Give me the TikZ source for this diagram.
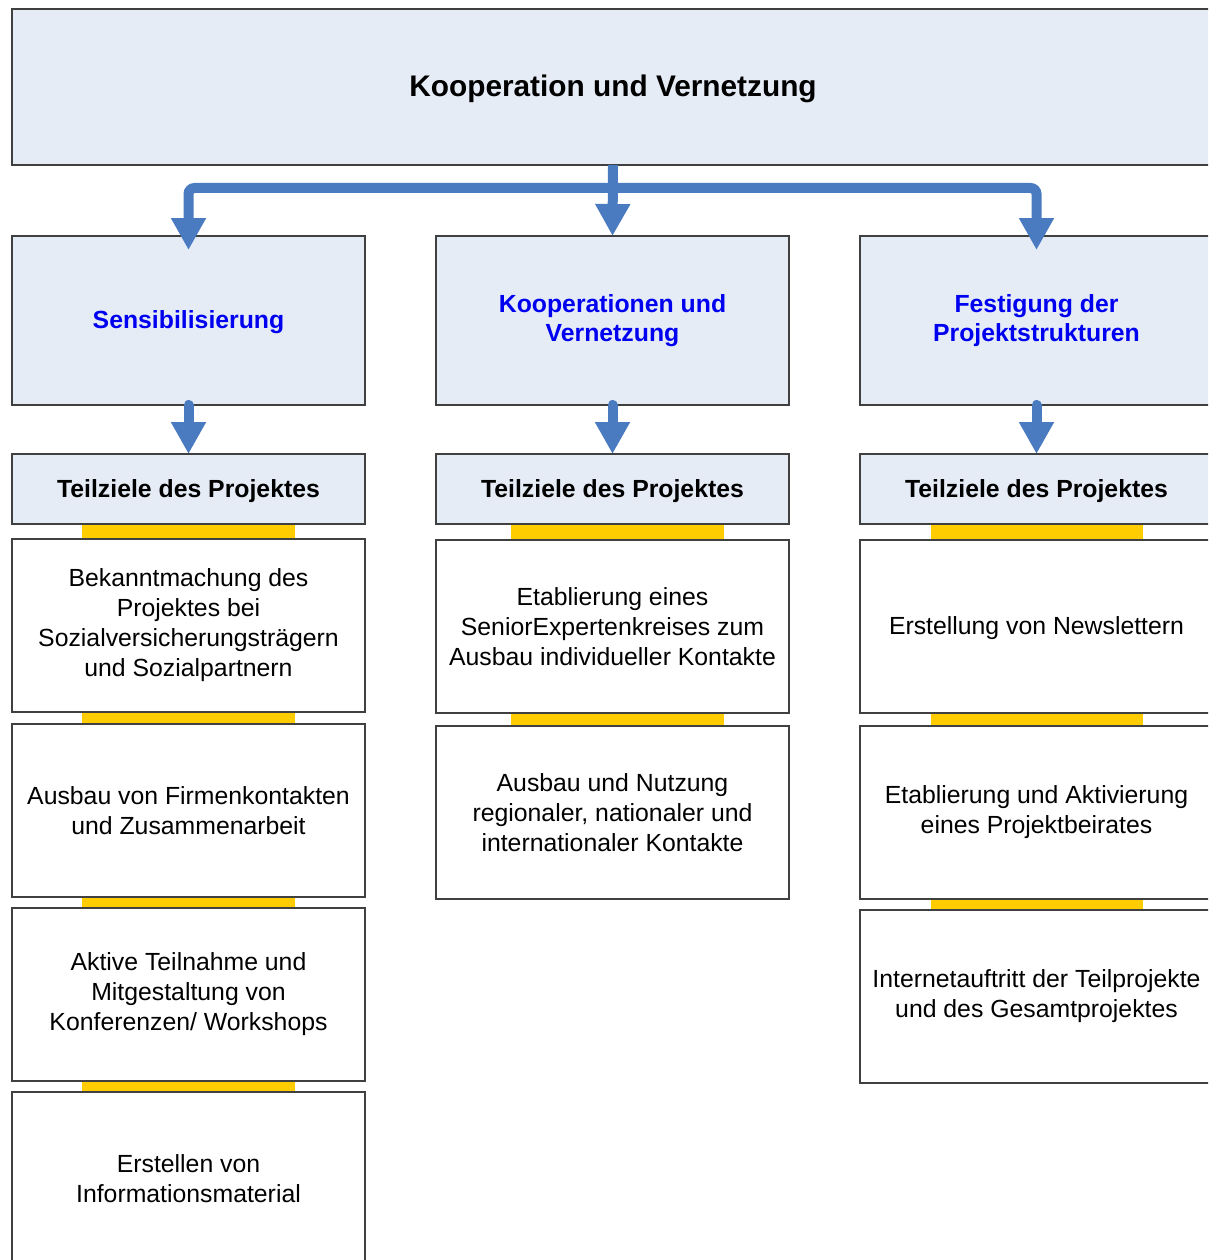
\documentclass[tikz,border=0pt]{standalone}
\usepackage{fontspec}
\setmainfont{Liberation Sans}
\usetikzlibrary{arrows.meta,calc}
\definecolor{paleblue}{HTML}{E5ECF6}
\definecolor{flowblue}{HTML}{4A7BC1}
\definecolor{headblue}{RGB}{0,0,240}
\definecolor{baryellow}{HTML}{FFCC00}
\definecolor{edgegray}{HTML}{404040}
\begin{document}
\begin{tikzpicture}[x=1pt,y=-1pt,
  % a zero-width strut on the first line lowers the text block slightly
  lowered/.style={execute at begin node={\rule{0pt}{#1}}},
  base/.style={draw=edgegray, line width=1.3pt, anchor=north west,
    inner sep=4pt, outer sep=0pt, align=center, lowered=21.8pt,
    font=\fontsize{24.8}{30}\selectfont},
  topbox/.style={base, fill=paleblue, minimum width=1202pt, minimum height=156pt,
    lowered=25.3pt, font=\fontsize{29.8}{34}\selectfont\bfseries},
  headbox/.style={base, fill=paleblue, minimum width=353pt, minimum height=169pt,
    text=headblue, font=\fontsize{24.8}{29.5}\selectfont\bfseries},
  goalbox/.style={base, fill=paleblue, minimum width=353pt, minimum height=70pt,
    font=\fontsize{24.8}{30}\selectfont\bfseries},
  itembox/.style={base, fill=white, minimum width=353pt, minimum height=173pt},
  bar/.style={fill=baryellow},
  flow/.style={draw=flowblue, line width=10pt,
    -{Triangle[width=33pt,length=32pt]}},
]
\useasboundingbox (0,0) rectangle (1208,1260);
\clip (0,0) rectangle (1208,1260);
\fill[white] (0,0) rectangle (1208,1260);

% yellow connecting bars behind the boxes
\fill[bar] (82,522) rectangle (295,541);
\fill[bar] (82,710) rectangle (295,726);
\fill[bar] (82,895) rectangle (295,910);
\fill[bar] (82,1079) rectangle (295,1094);
\fill[bar] (511,522) rectangle (724,542);
\fill[bar] (511,711) rectangle (724,728);
\fill[bar] (931,522) rectangle (1143,542);
\fill[bar] (931,711) rectangle (1143,728);
\fill[bar] (931,897) rectangle (1143,912);

% main box
\node[topbox] (top) at (12,9) {Kooperation und Vernetzung};

% header boxes
\node[headbox] (h1) at (12,236) {Sensibilisierung};
\node[headbox] (h2) at (436,236) {Kooperationen und\\Vernetzung};
\node[headbox] (h3) at (860,236) {Festigung der\\Projektstrukturen};

% sub-goal titles
\node[goalbox] (t1) at (12,454) {Teilziele des Projektes};
\node[goalbox] (t2) at (436,454) {Teilziele des Projektes};
\node[goalbox] (t3) at (860,454) {Teilziele des Projektes};

% column 1
\node[itembox] (a1) at (12,539) {Bekanntmachung des\\Projektes bei\\Sozialversicherungsträgern\\und Sozialpartnern};
\node[itembox] (b1) at (12,724) {Ausbau von Firmenkontakten\\und Zusammenarbeit};
\node[itembox] (c1) at (12,908) {Aktive Teilnahme und\\Mitgestaltung von\\Konferenzen/ Workshops};
\node[itembox] (d1) at (12,1092) {Erstellen von\\Informationsmaterial};

% column 2
\node[itembox] (a2) at (436,540) {Etablierung eines\\SeniorExpertenkreises zum\\Ausbau individueller Kontakte};
\node[itembox] (b2) at (436,726) {Ausbau und Nutzung\\regionaler, nationaler und\\internationaler Kontakte};

% column 3
\node[itembox] (a3) at (860,540) {Erstellung von Newslettern};
\node[itembox] (b3) at (860,726) {Etablierung und Aktivierung\\eines Projektbeirates};
\node[itembox] (c3) at (860,910) {Internetauftritt der Teilprojekte\\und des Gesamtprojektes};

% distribution arrows from the main box
\coordinate (j) at ($(top.south)+(0,23)$);
\coordinate (tip1) at ($(h1.north)+(0,14)$);
\coordinate (tip3) at ($(h3.north)+(0,14)$);
\draw[flow] (top.south) -- (h2.north);
\draw[flow, rounded corners=6pt] (j) -| (tip1);
\draw[flow, rounded corners=6pt] (j) -| (tip3);

% arrows to the sub-goal titles
\draw[flow, line cap=round] (h1.south) -- (t1.north);
\draw[flow, line cap=round] (h2.south) -- (t2.north);
\draw[flow, line cap=round] (h3.south) -- (t3.north);
\end{tikzpicture}
\end{document}
